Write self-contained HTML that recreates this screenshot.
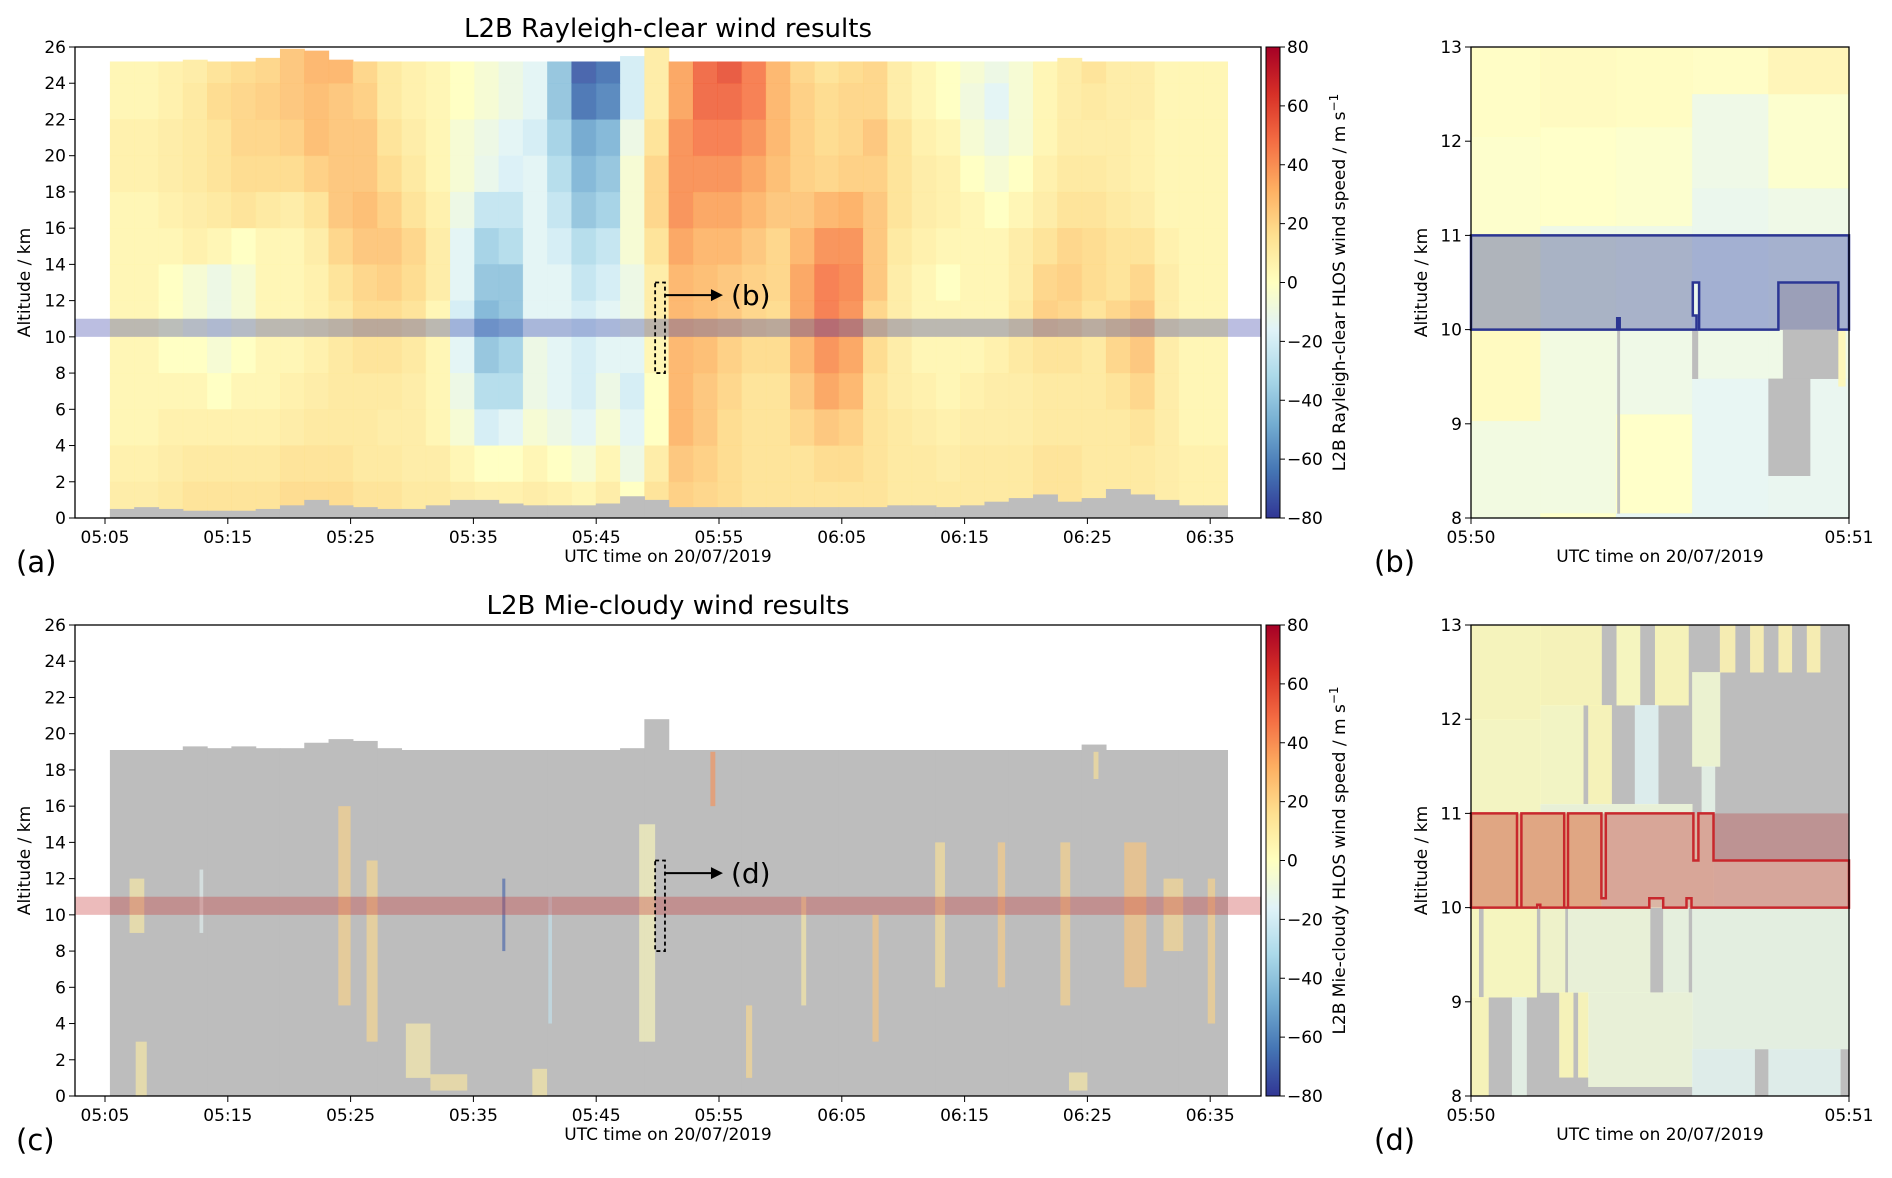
<!DOCTYPE html>
<html><head><meta charset="utf-8"><style>
body{margin:0;background:#fff;}
svg{display:block;font-family:"DejaVu Sans","Liberation Sans",sans-serif;}
.tk{font-size:17px;fill:#000;}
</style></head><body>
<svg id="fig" width="1892" height="1178" viewBox="0 0 1892 1178" xmlns="http://www.w3.org/2000/svg">
<defs>
<linearGradient id="cbg" x1="0" y1="1" x2="0" y2="0">
<stop offset="0" stop-color="#313695"/><stop offset="0.1" stop-color="#4575b4"/><stop offset="0.2" stop-color="#74add1"/><stop offset="0.3" stop-color="#abd9e9"/><stop offset="0.4" stop-color="#e0f3f8"/><stop offset="0.5" stop-color="#ffffbf"/><stop offset="0.6" stop-color="#fee090"/><stop offset="0.7" stop-color="#fdae61"/><stop offset="0.8" stop-color="#f46d43"/><stop offset="0.9" stop-color="#d73027"/><stop offset="1" stop-color="#a50026"/>
</linearGradient>
</defs>
</svg>
<script>
// ---- Rayleigh grid: rows from 24 km layer down to 0 km layer (2 km each), 46 time columns from 05:05.4 to 06:36.4
const rayAlts=[24,22,20,18,16,14,12,10,8,6,4,2,0];
const ray24=[5,5,8,10,15,18,20,25,30,30,20,12,8,5,0,-5,-10,-15,-40,-70,-65,-20,10,35,50,55,45,30,20,15,18,20,10,5,0,-5,-10,-5,5,10,15,10,10,5,5,5];
const ray22=[5,5,8,12,18,20,22,25,28,25,22,12,8,5,0,-5,-10,-15,-40,-65,-60,-20,10,35,50,50,45,30,22,18,20,20,10,5,0,-8,-15,-5,5,10,12,10,10,5,5,5];
const ray20=[8,8,10,12,15,20,20,22,28,25,25,15,10,5,-5,-10,-15,-20,-35,-50,-45,-10,15,40,45,45,40,30,22,18,20,25,15,8,5,-5,-10,-5,5,10,10,10,8,5,5,5];
const ray18=[8,8,10,12,15,18,18,18,22,25,25,18,12,5,-5,-12,-18,-15,-30,-45,-40,-5,20,40,40,40,35,28,22,20,22,22,15,10,8,0,-5,0,8,12,12,10,8,5,5,5];
const ray16=[5,5,8,10,12,15,12,10,15,25,28,22,15,8,-10,-25,-25,-15,-25,-40,-35,-5,20,40,35,35,30,25,25,30,32,25,15,10,8,5,0,5,10,15,15,12,10,5,5,5];
const ray14=[5,5,5,8,5,0,5,5,10,20,25,25,20,10,-15,-35,-30,-15,-20,-30,-25,-5,15,35,30,30,25,20,30,40,40,25,12,8,5,5,5,10,15,20,18,15,15,8,5,5];
const ray12=[5,5,0,-5,-10,-5,5,5,8,15,20,22,18,10,-15,-40,-40,-15,-15,-25,-20,-10,10,30,28,25,22,20,35,45,42,25,10,5,0,5,5,10,20,22,18,15,20,10,5,5];
const ray10=[5,5,0,-5,-10,-5,5,5,8,12,18,18,15,5,-20,-45,-40,-15,-15,-20,-15,-10,10,30,28,25,20,18,35,45,40,20,10,5,5,5,5,12,22,20,15,20,25,10,5,5];
const ray8=[5,5,0,0,-5,0,5,5,8,12,15,15,12,5,-15,-40,-35,-10,-15,-20,-15,-15,5,30,28,22,18,18,30,40,35,18,10,5,5,5,8,12,15,15,12,20,25,10,5,5];
const ray6=[5,5,5,5,0,5,5,8,10,12,12,12,10,5,-10,-30,-30,-10,-15,-20,-10,-20,0,30,25,20,15,15,25,35,30,15,10,8,5,8,10,10,12,12,12,15,20,10,5,5];
const ray4=[5,5,8,8,8,8,8,10,12,12,12,10,10,5,-5,-20,-15,-5,-10,-15,-5,-15,0,30,25,18,15,15,20,25,22,15,12,10,8,10,10,10,12,12,12,12,15,10,5,5];
const ray2=[8,8,10,12,12,12,12,15,15,15,12,12,10,10,5,0,0,5,0,-5,5,-10,10,25,22,18,15,15,15,18,18,15,12,12,10,12,12,12,15,15,12,12,12,10,8,8];
const ray0=[10,10,12,15,15,15,15,18,18,18,15,15,12,12,10,8,8,10,8,5,10,0,15,22,20,18,15,15,15,15,15,15,12,12,12,12,12,12,15,15,12,12,12,10,8,8];
const rayGrayTop=[0.5,0.6,0.5,0.4,0.4,0.4,0.5,0.7,1.0,0.7,0.6,0.5,0.5,0.7,1.0,1.0,0.8,0.7,0.7,0.7,0.8,1.2,1.0,0.6,0.6,0.6,0.6,0.6,0.6,0.6,0.6,0.6,0.7,0.7,0.6,0.7,0.9,1.1,1.3,0.9,1.1,1.6,1.3,1.0,0.7,0.7];
const rayTop=[25.2,25.2,25.2,25.3,25.2,25.2,25.4,25.9,25.8,25.3,25.2,25.2,25.2,25.2,25.2,25.2,25.2,25.2,25.2,25.2,25.2,25.5,26,25.2,25.2,25.2,25.2,25.2,25.2,25.2,25.2,25.2,25.2,25.2,25.2,25.2,25.2,25.2,25.2,25.4,25.2,25.2,25.2,25.2,25.2,25.2];
// ---- Mie: cloud-free-gray top per column, and coloured stripes [startMin,endMin,altBot,altTop,value]
const mieTop=[19.1,19.1,19.1,19.3,19.2,19.3,19.2,19.2,19.5,19.7,19.6,19.2,19.1,19.1,19.1,19.1,19.1,19.1,19.1,19.1,19.1,19.2,20.8,19.1,19.1,19.1,19.1,19.1,19.1,19.1,19.1,19.1,19.1,19.1,19.1,19.1,19.1,19.1,19.1,19.1,19.4,19.1,19.1,19.1,19.1,19.1];
const mieStart=[7,12.7,24,26.3,29.5,31.5,37.35,41.1,48.5,54.3,57.2,61.7,67.5,72.6,77.7,82.8,85.5,88,91.2,94.8,7.5,39.8,83.5];
const mieEnd=[8.2,13,25,27.2,31.5,34.5,37.6,41.4,49.8,54.7,57.7,62.1,68,73.4,78.3,83.6,85.9,89.8,92.8,95.4,8.4,41,85];
const mieBot=[9,9,5,3,1,0.3,8,4,3,16,1,5,3,6,6,5,17.5,6,8,4,0,0,0.3];
const mieTopAlt=[12,12.5,16,13,4,1.2,12,11,15,19,5,11,10,14,14,14,19,14,12,12,3,1.5,1.3];
const mieVal=[10,-15,20,18,8,12,-70,-25,2,40,18,10,25,15,22,20,15,25,18,20,10,10,10];
// ---- panel (b) cells: [s0,s1,a0,a1,value] (null = gray)
const bS0=[0,0,0,0,0,11,11,11,11,11,11,23,23,23,23,23,23,23,35.1,35.1,35.1,35.1,35.1,47.2,47.2,47.2,47.2,47.2,23.2,35.1,48.8,49.5,47.2,58.3];
const bS1=[11,11,11,11,11,23,23,23,23,23,23,35.1,35.1,35.1,35.1,35.1,35.1,35.1,47.2,47.2,47.2,47.2,47.2,60,60,60,60,60,23.6,36,58.3,58.3,53.8,59.4];
const bA0=[12.05,11,10,9.03,8,12.15,11.1,11,10,8.05,8,12.15,11.1,11,10,9.1,8.05,8,12.5,11.5,10,9.48,8,12.5,11.5,10,8,9.48,8.05,9.48,10,9.48,8.45,9.4];
const bA1=[13,12.05,11,10,9.03,13,12.15,11.1,11,10,8.05,13,12.15,11.1,11,10,9.1,8.05,13,12.5,11.5,10,9.48,13,12.5,11.5,9.48,10,10,10,10.5,10,9.48,10];
const bV=[1,-1,1,3,-8,3,0,-10,-5,-8,0,2,-2,-10,-7,-10,0,-14,1,-10,-12,-10,-14,6,-2,-10,-13,-10,null,null,null,null,null,4];
// ---- panel (d) cells on gray background
const dS0=[0,11,23.1,29.2,39.5,44.3,48.8,53.3,0,11,18.6,26,35.1,36.6,11,0,20.7,38.5,0,2,11,15.4,30.5,35.1,0,6.5,14,17,18.6,35.1,47.2];
const dS1=[11,20.7,26.8,34.5,41.9,46.4,50.9,55.4,11,17.8,22.3,29.7,39.5,38.7,35.1,20.7,38.5,60,1.2,10.4,14.9,28.4,34.5,60,2.75,8.8,16.2,18.6,35.1,45,58.6];
const dA0=[12,12.15,12.15,12.15,12.5,12.5,12.5,12.5,11,11.1,11.1,11.1,11.5,11,11,10,10,10,9.05,9.05,9.1,9.1,9.1,8.5,8,8,8.2,8.2,8.1,8,8];
const dA1=[13,13,13,13,13,13,13,13,12,12.15,12.15,12.15,12.5,11.5,11.1,11,11,10.5,10,10,10,10,10,10,9.05,9.05,9.1,9.1,9.1,8.5,8.5];
const dV=[1,2,0,2,5,5,5,5,-1,-2,2,-15,-6,-12,-8,3,-8,-10,0,0,-4,-8,-10,-11,2,-12,2,2,-8,-14,-14];
const xTickLabels=["05:05","05:15","05:25","05:35","05:45","05:55","06:05","06:15","06:25","06:35"];
const xTickMins=[5,15,25,35,45,55,65,75,85,95];
const yTicks=[0,2,4,6,8,10,12,14,16,18,20,22,24,26];
const cbTicks=[-80,-60,-40,-20,0,20,40,60,80];
const zoomYTicks=[8,9,10,11,12,13];

const NS="http://www.w3.org/2000/svg";
const svg=document.getElementById('fig');
function mk(tag,attrs,parent,text){const e=document.createElementNS(NS,tag);for(const k in attrs)e.setAttribute(k,attrs[k]);if(text!==undefined)e.textContent=text;(parent||svg).appendChild(e);return e;}
const stops=[[49,54,149],[69,117,180],[116,173,209],[171,217,233],[224,243,248],[255,255,191],[254,224,144],[253,174,97],[244,109,67],[215,48,39],[165,0,38]];
function cmap(v){let f=(Math.max(-80,Math.min(80,v))+80)/160*10;let i=Math.min(9,Math.floor(f));let t=f-i;const a=stops[i],b=stops[i+1];return 'rgb('+a.map((c,k)=>Math.round(c+(b[k]-c)*t)).join(',')+')';}
const GRAY='#bdbdbd';
const MX0=75,MX1=1261;
function xm(m){return 105+(m-5)*12.28;}
function ya(a,y0){return y0+(26-a)*(471/26);}
const colStart=5.4,colW=(96.4-5.4)/46;
const rayRows=[ray24,ray22,ray20,ray18,ray16,ray14,ray12,ray10,ray8,ray6,ray4,ray2,ray0];

function axesFrame(g,x0,x1,y0,y1){const r=mk('rect',{x:x0,y:y0,width:x1-x0,height:y1-y0,fill:'none',stroke:'#000','stroke-width':1.3},g);}
function mainTicks(g,y0,y1){
 xTickMins.forEach((m,i)=>{const x=xm(m);mk('line',{x1:x,x2:x,y1:y1,y2:y1+6,stroke:'#000'},g);const t=mk('text',{x:x,y:y1+25,class:'tk','text-anchor':'middle'},g,xTickLabels[i]);});
 yTicks.forEach(a=>{const y=ya(a,y0);mk('line',{x1:MX0-6,x2:MX0,y1:y,y2:y,stroke:'#000'},g);const t=mk('text',{x:MX0-9,y:y+6,class:'tk','text-anchor':'end'},g,String(a));});
 const yl=mk('text',{x:30,y:(y0+y1)/2,class:'tk','text-anchor':'middle',transform:'rotate(-90 30 '+((y0+y1)/2)+')'},g,'Altitude / km');
 const xl=mk('text',{x:668,y:y1+44,class:'tk','text-anchor':'middle'},g,'UTC time on 20/07/2019');
}
function colorbar(g,y0,y1,label){
 const r=mk('rect',{x:1266,y:y0,width:14,height:y1-y0,fill:'url(#cbg)',stroke:'#000','stroke-width':1},g);
 cbTicks.forEach(v=>{const y=y1-(v+80)/160*(y1-y0);mk('line',{x1:1280,x2:1285,y1:y,y2:y,stroke:'#000'},g);const t=mk('text',{x:1287,y:y+6,class:'tk'},g,(v<0?'\u2212':'')+Math.abs(v));});
 const cx=1345,cy=(y0+y1)/2;const t=mk('text',{x:cx,y:cy,class:'tk','text-anchor':'middle',transform:'rotate(-90 '+cx+' '+cy+')'},g);
 t.textContent=label+' HLOS wind speed / m s';mk('tspan',{dy:-7,'font-size':12},t,'\u22121');
}
function title(g,y,txt){const t=mk('text',{x:668,y:y,'font-size':26,'text-anchor':'middle'},g,txt);}
function letter(g,x,y,txt){const t=mk('text',{x:x,y:y,'font-size':29},g,txt);}
function annot(g,y0,lbl){
 const xa=xm(49.8),xb=xm(50.6);
 const r=mk('rect',{x:xa,y:ya(13,y0),width:xb-xa,height:ya(8,y0)-ya(13,y0),fill:'none',stroke:'#000','stroke-width':1.8,'stroke-dasharray':'4,3'},g);
 const yy=ya(12.3,y0);mk('line',{x1:xb,x2:xb+50,y1:yy,y2:yy,stroke:'#000','stroke-width':2},g);
 mk('path',{d:'M'+(xb+58)+' '+yy+' l-12 -6 l0 12 z',fill:'#000'},g);
 const t=mk('text',{x:xb+66,y:yy+10,'font-size':28},g,lbl);
}

// ===== Panel (a)
const ga=mk('g',{});
const YA=47,YA1=518;
title(ga,37,'L2B Rayleigh-clear wind results');
rayRows.forEach((row,r)=>{const a0=rayAlts[r];row.forEach((v,i)=>{const t0=colStart+i*colW;const aTop=r===0?rayTop[i]:a0+2;
 const c=mk('rect',{x:xm(t0),y:ya(aTop,YA),width:colW*12.28+0.6,height:ya(a0,YA)-ya(aTop,YA)+0.5,fill:cmap(v),'fill-opacity':0.93},ga);
 });});
rayGrayTop.forEach((h,i)=>{const t0=colStart+i*colW;const c=mk('rect',{x:xm(t0),y:ya(h,YA),width:colW*12.28+0.6,height:ya(0,YA)-ya(h,YA),fill:GRAY},ga);});
{const b=mk('rect',{x:MX0,y:ya(11,YA),width:MX1-MX0,height:ya(10,YA)-ya(11,YA),fill:'rgb(60,70,170)','fill-opacity':0.35},ga);}
axesFrame(ga,MX0,MX1,YA,YA1);mainTicks(ga,YA,YA1);colorbar(ga,YA,YA1,'L2B Rayleigh-clear');annot(ga,YA,'(b)');letter(ga,16,572,'(a)');

// ===== Panel (c)
const gc=mk('g',{});
const YC=625,YC1=1096;
title(gc,614,'L2B Mie-cloudy wind results');
mieTop.forEach((h,i)=>{const t0=colStart+i*colW;const c=mk('rect',{x:xm(t0),y:ya(h,YC),width:colW*12.28+0.6,height:ya(0,YC)-ya(h,YC),fill:GRAY},gc);});
mieStart.forEach((s,i)=>{const c=mk('rect',{x:xm(s),y:ya(mieTopAlt[i],YC),width:Math.max(1.5,(mieEnd[i]-s)*12.28),height:ya(mieBot[i],YC)-ya(mieTopAlt[i],YC),fill:cmap(mieVal[i]),'fill-opacity':0.6},gc);});
{const b=mk('rect',{x:MX0,y:ya(11,YC),width:MX1-MX0,height:ya(10,YC)-ya(11,YC),fill:'rgb(200,60,60)','fill-opacity':0.35},gc);}
axesFrame(gc,MX0,MX1,YC,YC1);mainTicks(gc,YC,YC1);colorbar(gc,YC,YC1,'L2B Mie-cloudy');annot(gc,YC,'(d)');letter(gc,16,1150,'(c)');

// ===== Zoom panels
const ZX0=1471,ZX1=1849;
function zx(s){return ZX0+s*(ZX1-ZX0)/60;}
function zy(a,y0){return y0+(13-a)*(471/5);}
function zoomAxes(g,y0){
 const y1=y0+471;axesFrame(g,ZX0,ZX1,y0,y1);
 zoomYTicks.forEach(a=>{const y=zy(a,y0);mk('line',{x1:ZX0-6,x2:ZX0,y1:y,y2:y,stroke:'#000'},g);const t=mk('text',{x:ZX0-9,y:y+6,class:'tk','text-anchor':'end'},g,String(a));});
 [[0,'05:50'],[60,'05:51']].forEach(p=>{const x=zx(p[0]);mk('line',{x1:x,x2:x,y1:y1,y2:y1+6,stroke:'#000'},g);const t=mk('text',{x:x,y:y1+25,class:'tk','text-anchor':'middle'},g,p[1]);});
 const cy=(y0+y1)/2;const yl=mk('text',{x:1427,y:cy,class:'tk','text-anchor':'middle',transform:'rotate(-90 1427 '+cy+')'},g,'Altitude / km');
 const xl=mk('text',{x:1660,y:y1+44,class:'tk','text-anchor':'middle'},g,'UTC time on 20/07/2019');
}
function cells(g,y0,S0,S1,A0,A1,V){S0.forEach((s,i)=>{const c=mk('rect',{x:zx(s),y:zy(A1[i],y0),width:zx(S1[i])-zx(s)+0.4,height:zy(A0[i],y0)-zy(A1[i],y0)+0.4,fill:V[i]===null?GRAY:cmap(V[i]),'fill-opacity':V[i]===null?1:0.85},g);});}
function pts(list,y0){return 'M'+list.map(p=>zx(p[0]).toFixed(1)+' '+zy(p[1],y0).toFixed(1)).join(' L')+' Z';}

const gb=mk('g',{});
cells(gb,YA,bS0,bS1,bA0,bA1,bV);
{const p=mk('path',{d:pts([[0,11],[60,11],[60,10],[58.3,10],[58.3,10.5],[48.8,10.5],[48.8,10],[36.2,10],[36.2,10.5],[35.2,10.5],[35.2,10.15],[35.8,10.15],[35.8,10],[23.6,10],[23.6,10.12],[23.2,10.12],[23.2,10],[0,10]],YA),fill:'rgb(55,70,170)','fill-opacity':0.4,stroke:'#2b3592','stroke-width':2.5},gb);}
{const b=mk('rect',{x:zx(48.8),y:zy(10.5,YA),width:zx(58.3)-zx(48.8),height:zy(10,YA)-zy(10.5,YA),fill:'rgb(55,70,170)','fill-opacity':0.25},gb);}
zoomAxes(gb,YA);letter(gb,1374,572,'(b)');

const gd=mk('g',{});
{const bg=mk('rect',{x:ZX0,y:YC,width:ZX1-ZX0,height:471,fill:GRAY},gd);}
cells(gd,YC,dS0,dS1,dA0,dA1,dV);
{const b=mk('rect',{x:ZX0,y:zy(11,YC),width:ZX1-ZX0,height:zy(10,YC)-zy(11,YC),fill:'rgb(190,50,50)','fill-opacity':0.3},gd);}
{const p=mk('path',{d:pts([[0,11],[7.3,11],[7.3,10],[8,10],[8,11],[14.8,11],[14.8,10],[15.4,10],[15.4,11],[20.7,11],[20.7,10.1],[21.4,10.1],[21.4,11],[35.3,11],[35.3,10.5],[36.1,10.5],[36.1,11],[38.5,11],[38.5,10.5],[60,10.5],[60,10],[35,10],[35,10.1],[34.2,10.1],[34.2,10],[30.5,10],[30.5,10.1],[28.3,10.1],[28.3,10],[11,10],[11,10.03],[10.5,10.03],[10.5,10],[0,10]],YC),fill:'rgb(200,60,60)','fill-opacity':0.12,stroke:'#c8282d','stroke-width':2.5},gd);}
zoomAxes(gd,YC);letter(gd,1374,1150,'(d)');
</script>
</body></html>
